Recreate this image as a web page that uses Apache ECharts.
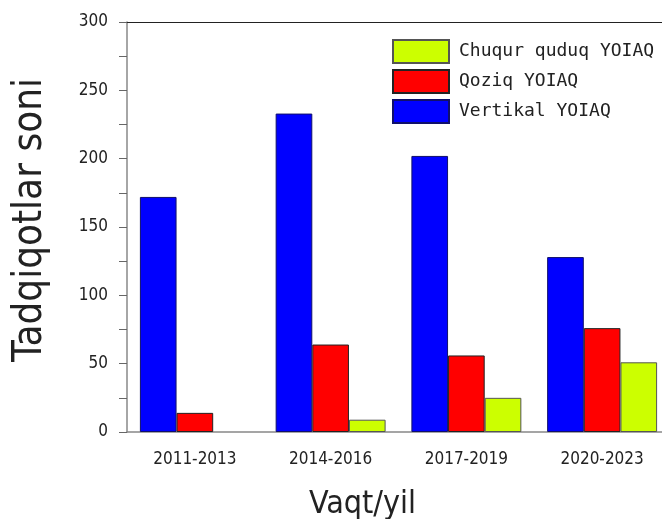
<!DOCTYPE html>
<html>
<head>
<meta charset="utf-8">
<script src="https://cdn.jsdelivr.net/npm/echarts@6/dist/echarts.min.js"></script>
<style>
  html, body { margin: 0; padding: 0; background: #fff; }
  #chart { width: 662px; height: 519px; }
</style>
</head>
<body>
<div id="chart"></div>
<script>
const periods = ['2011-2013', '2014-2016', '2017-2019', '2020-2023'];
const vertikal = [172, 233, 202, 128];
const qoziq = [14, 64, 56, 76];
// no bar drawn for the first period
const chuqur = [null, 9, 25, 51];
const yTicks = [0, 50, 100, 150, 200, 250, 300];

const labelFont = 'DejaVu Sans Condensed, DejaVu Sans';
const titleFont = 'Liberation Sans Narrow, DejaVu Sans Condensed, sans-serif';

const chart = echarts.init(document.getElementById('chart'));

const option = {
  animation: false,
  backgroundColor: '#fff',
  grid: { left: 127, top: 22, right: -8, bottom: 87, outerBoundsMode: 'none', containLabel: false },
  legend: {
    orient: 'vertical',
    left: 387,
    top: 34,
    itemWidth: 56,
    itemHeight: 23,
    itemGap: 5,
    icon: 'rect',
    data: ['Chuqur quduq YOIAQ', 'Qoziq YOIAQ', 'Vertikal YOIAQ'],
    textStyle: { fontFamily: 'DejaVu Sans Mono', fontSize: 18, color: '#222', padding: [0, 0, 0, 5] },
  },
  xAxis: [
    {
      type: 'category',
      data: periods,
      name: 'Vaqt/yil',
      nameLocation: 'middle',
      nameGap: 57,
      nameTextStyle: { fontFamily: titleFont, fontSize: 32, color: '#222', padding: [0, 72, 0, 0] },
      axisLine: { lineStyle: { color: '#888', width: 1.5 } },
      axisTick: { alignWithLabel: true, length: 6, lineStyle: { color: '#444' } },
      axisLabel: { fontFamily: labelFont, fontSize: 17, color: '#222', margin: 19 },
    },
    {
      type: 'category',
      data: periods,
      position: 'top',
      axisLine: { lineStyle: { color: '#222', width: 1.2 } },
      axisTick: { show: false },
      axisLabel: { show: false },
    },
  ],
  yAxis: {
    type: 'value',
    min: 0,
    max: 300,
    interval: 25,
    name: 'Tadqiqotlar soni',
    nameLocation: 'middle',
    nameGap: 76,
    nameTextStyle: { fontFamily: titleFont, fontSize: 40, color: '#222', padding: [0, 0, 0, 14] },
    splitLine: { show: false },
    axisLine: { show: true, lineStyle: { color: '#888', width: 1.5 } },
    axisTick: { show: true, length: 8, lineStyle: { color: '#666' } },
    axisLabel: {
      fontFamily: labelFont,
      fontSize: 17,
      color: '#222',
      margin: 19,
      formatter: (v) => (yTicks.includes(v) ? String(v) : ''),
    },
  },
  series: [
    {
      name: 'Vertikal YOIAQ',
      type: 'bar',
      data: vertikal,
      barGap: '0%',
      barCategoryGap: '19%',
      itemStyle: { color: '#0000ff', borderColor: '#10106a', borderWidth: 1 },
    },
    {
      name: 'Qoziq YOIAQ',
      type: 'bar',
      data: qoziq,
      barGap: '0%',
      barCategoryGap: '19%',
      itemStyle: { color: '#ff0000', borderColor: '#222', borderWidth: 1 },
    },
    {
      name: 'Chuqur quduq YOIAQ',
      type: 'bar',
      data: chuqur,
      barGap: '0%',
      barCategoryGap: '19%',
      itemStyle: { color: '#ccff00', borderColor: '#555', borderWidth: 1 },
    },
  ],
};

chart.setOption(option);
</script>
</body>
</html>
